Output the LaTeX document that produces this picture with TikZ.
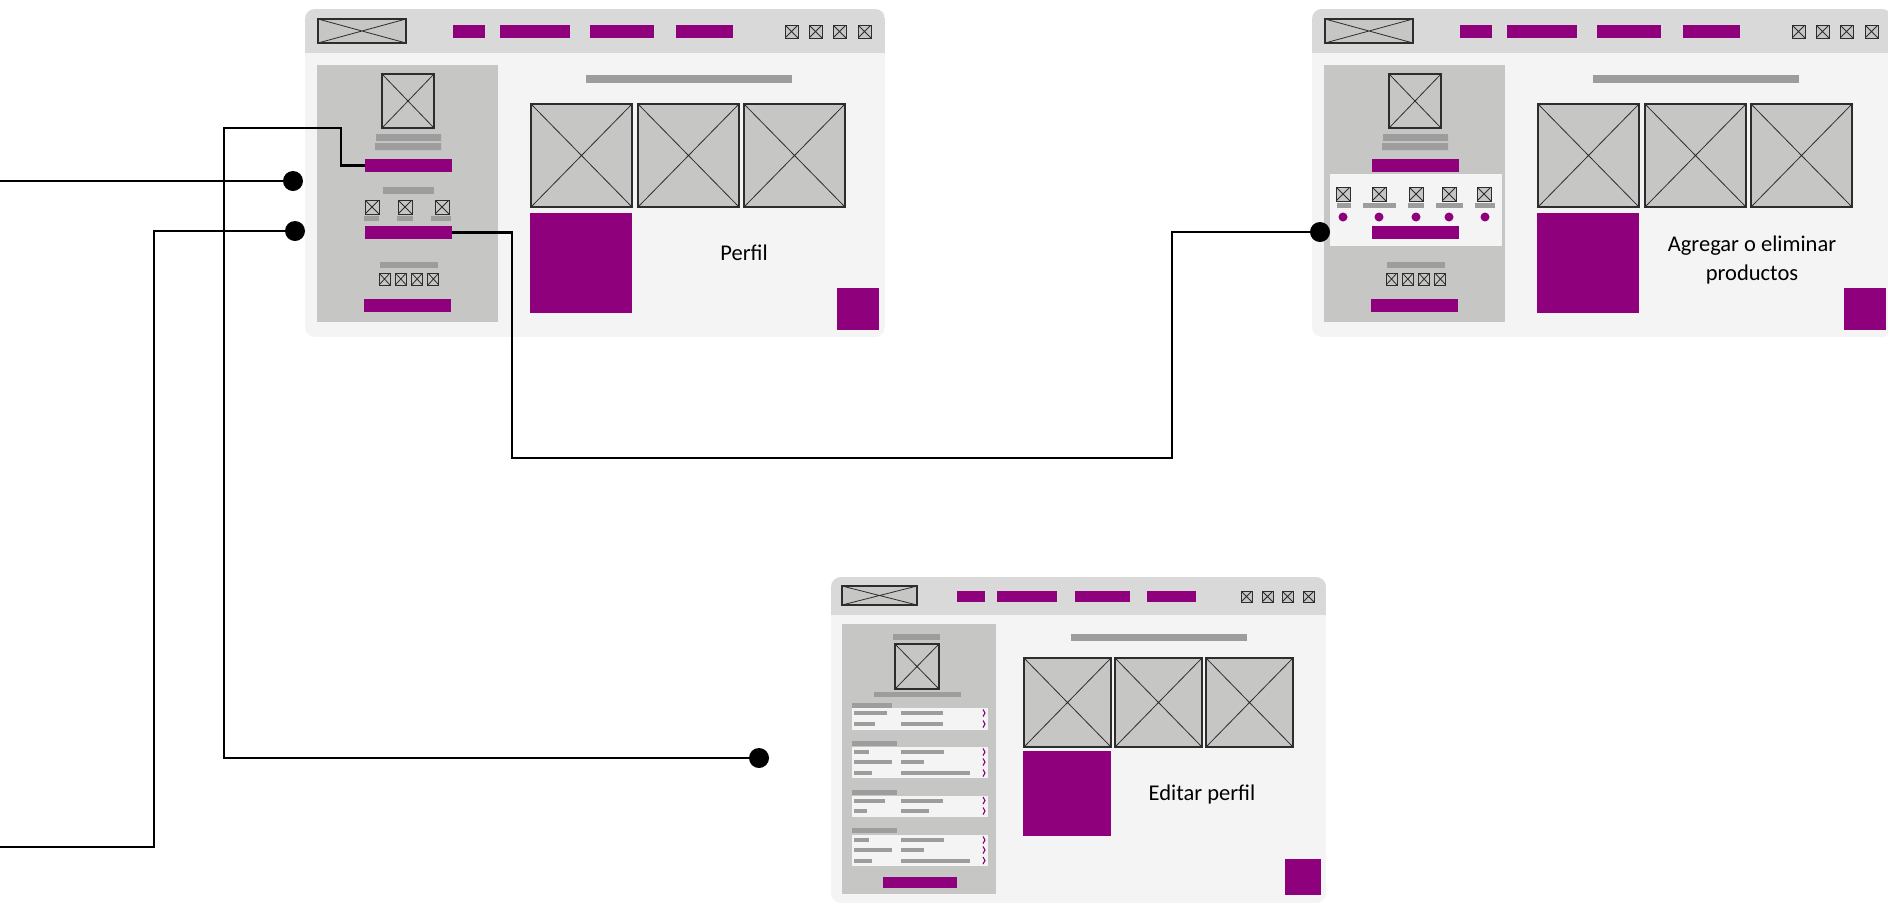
\documentclass[tikz,border=0pt]{standalone}
\usepackage{fontspec}
\setmainfont{Carlito}
\usepackage{tikz}
\usetikzlibrary{positioning}

\definecolor{wfpurple}{RGB}{142,0,124}
\definecolor{wfhead}{RGB}{217,217,217}
\definecolor{wfbody}{RGB}{244,244,244}
\definecolor{wfside}{RGB}{198,198,197}
\definecolor{wfbar}{RGB}{157,157,157}
\definecolor{wfline}{RGB}{45,45,45}

\begin{document}
\begin{tikzpicture}[
    x=1pt, y=-1pt,
    head/.style={fill=wfhead},
    body/.style={fill=wfbody},
    side/.style={fill=wfside},
    bar/.style={fill=wfbar},
    btn/.style={fill=wfpurple},
    btnnode/.style={fill=wfpurple, rectangle, inner sep=0pt, outer sep=0pt, minimum width=87pt, minimum height=13pt, anchor=north west},
    panel/.style={fill=wfbody},
    img/.style={draw=wfline, fill=wfside, line width=1.2pt, path picture={\draw[wfline, line width=0.8pt] (path picture bounding box.north west) -- (path picture bounding box.south east) (path picture bounding box.south west) -- (path picture bounding box.north east);}},
    ico/.style={img, line width=0.9pt},
    chev/.style={draw=wfpurple, line width=1.1pt},
    dot/.style={circle, fill=black, inner sep=0pt, minimum size=20pt},
    wtext/.style={font=\fontsize{22.5}{29}\selectfont, align=center, inner sep=0pt},
    wire/.style={draw, line width=2.2pt}
]
    \useasboundingbox (0,0) rectangle (1888,903);
    \fill[white] (0,0) rectangle (1888,903);

    % Windows: Perfil and Agregar
    \foreach \wx in {305,1312}{
    \begin{scope}[shift={(\wx,9)}]
        \begin{scope}
            \clip[rounded corners=10pt] (0,0) rectangle (580,328);
            \fill[body] (0,0) rectangle (580,328);
            \fill[head] (0,0) rectangle (580,44);
        \end{scope}
        \draw[img] (13,10) rectangle (101,34);
        \foreach \a/\b in {148/180,195/265,285/349,371/428} \fill[btn] (\a,16) rectangle (\b,29);
        \foreach \a in {480,504,528,553} \draw[ico] (\a,16) rectangle ++(13,13);
        \fill[side] (12,56) rectangle (193,313);
        \draw[img] (77,65) rectangle (129,119);
        \fill[bar] (71,125) rectangle (136,132) (70,134) rectangle (136,141);
        \fill[bar] (75,253) rectangle (133,259);
        \foreach \i in {0,...,3} \draw[ico] (74+16.3*\i,264) rectangle ++(11,12);
        \fill[btn] (59,290) rectangle (146,303);
        \fill[bar] (281,66) rectangle (487,74);
        \foreach \a in {226,333,439} \draw[img] (\a,95) rectangle ++(101,103);
        \fill[btn] (225,204) rectangle (327,304);
        \fill[btn] (532,279) rectangle (574,321);
    \end{scope}
    }

    % Perfil sidebar
    \begin{scope}[shift={(305,9)}]
        \fill[bar] (78,178) rectangle (129,185);
        \foreach \a/\la/\lb in {60/59/74, 93/92/108, 130/126/146}{
            \draw[ico] (\a,191) rectangle ++(14,14);
            \fill[bar] (\la,207) rectangle (\lb,212);
        }
        \node[btnnode] (perfil-btn1) at (60,150) {};
        \node[btnnode] (perfil-btn2) at (60,217) {};
        \node[wtext] (perfil-txt) at (439,244) {Perfil};
    \end{scope}

    % Agregar sidebar
    \begin{scope}[shift={(1312,9)}]
        \node[btnnode] (agregar-btn1) at (60,150) {};
        \fill[panel] (18,165) rectangle (190,237);
        \foreach \a/\la/\lb/\d in {24/25/39/31, 60/51/84/67, 97/96/112/104, 130/124/151/137, 165/163/183/173}{
            \draw[ico] (\a,178) rectangle ++(14,14);
            \fill[bar] (\la,194) rectangle (\lb,199);
            \fill[btn] (\d,208) circle (4.5pt);
        }
        \node[btnnode] (agregar-btn2) at (60,217) {};
        \node[wtext] (agregar-txt) at (440,251) {Agregar o eliminar\\productos};
    \end{scope}

    % Editar perfil window
    \begin{scope}[shift={(831,577)}]
        \begin{scope}
            \clip[rounded corners=10pt] (0,0) rectangle (495,326);
            \fill[body] (0,0) rectangle (495,326);
            \fill[head] (0,0) rectangle (495,38);
        \end{scope}
        \draw[img] (11,9) rectangle (86,28);
        \foreach \a/\b in {126/154,166/226,244/299,316/365} \fill[btn] (\a,14) rectangle (\b,25);
        \foreach \a in {410,431,451,472} \draw[ico] (\a,14) rectangle ++(11,11);
        \fill[side] (11,47) rectangle (165,317);
        \fill[bar] (62,57) rectangle (109,63);
        \draw[img] (64,67) rectangle (108,112);
        \fill[bar] (43,115) rectangle (130,120);
        % settings groups
        \foreach \h/\w/\t/\b in {126/61/131/153, 164/66/170/201, 213/66/219/240, 251/66/258/289}{
            \fill[bar] (21,\h) rectangle (\w,\h+5);
            \fill[panel] (21,\t) rectangle (157,\b);
        }
        \foreach \y/\l/\r in {136/56/112, 147/44/112, 175/38/113, 185/61/93, 196/41/139,
                              223.5/54/112, 234/36/98, 263/38/113, 273/61/93, 283.5/41/139}{
            \fill[bar] (23,\y-2) rectangle (\l,\y+2);
            \fill[bar] (70,\y-2) rectangle (\r,\y+2);
            \draw[chev] (152,\y-3.5) -- (154,\y) -- (152,\y+3.5);
        }
        \node[btnnode, minimum width=74pt, minimum height=11pt] (editar-btn) at (52,300) {};
        \fill[bar] (240,57) rectangle (416,64);
        \foreach \a in {193,284,375} \draw[img] (\a,81) rectangle ++(87,89);
        \fill[btn] (192,174) rectangle (280,259);
        \fill[btn] (454,282) rectangle (490,318);
        \node[wtext] (editar-txt) at (371,217) {Editar perfil};
    \end{scope}

    % Dots
    \node[dot] (dotA) at (293,181) {};
    \node[dot] (dotB) at (295,231) {};
    \node[dot] (dotC) at (759,758) {};
    \node[dot] (dotD) at (1320,232) {};
    \coordinate (inA) at (0,181);
    \coordinate (inB) at (0,847);

    % Lines
    \draw[wire] (inA) -- (dotA);
    \draw[wire] (dotB) -| (154,847) -- (inB);
    \draw[wire] (perfil-btn1.west) -| (341,128) -- (224,128) |- (dotC);
    \draw[wire] (perfil-btn2.east) -| (512,458) -| (1172,232) -- (dotD);

\end{tikzpicture}
\end{document}
